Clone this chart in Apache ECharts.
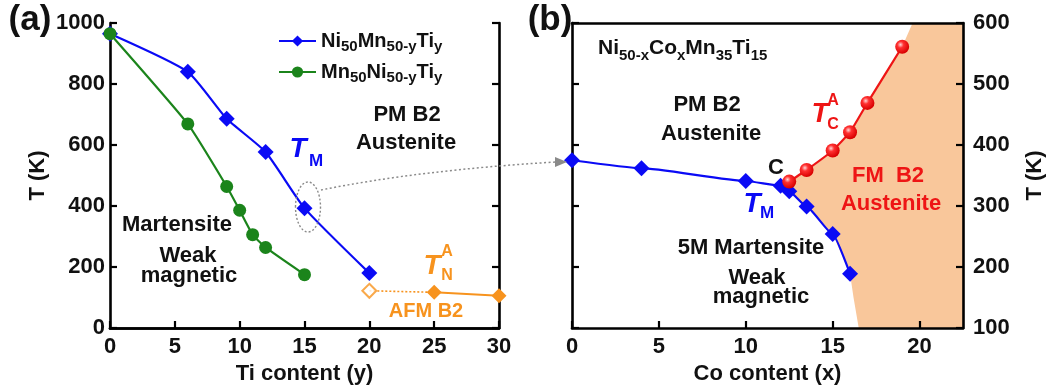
<!DOCTYPE html>
<html><head><meta charset="utf-8">
<script src="https://cdn.jsdelivr.net/npm/echarts@6/dist/echarts.min.js"></script>
<style>html,body{margin:0;padding:0;background:#fff}#c{width:1056px;height:390px}</style>
</head><body><div id="c"></div>
<script>
// ---- data ----
const tiX = [0, 6, 9, 12, 15, 20];
const niMnTiT = [965, 840, 686, 577, 393, 180];
const tiX2 = [0, 6, 9, 10, 11, 12, 15];
const mnNiTiT = [965, 669, 464, 386, 306, 264, 175];
const afmDottedX = [20, 25];
const afmDottedT = [122, 117];
const afmSolidX = [25, 30];
const afmSolidT = [117, 106];
const coX = [0, 4, 10, 12, 12.5, 13.5, 15, 16];
const coTM = [375, 362, 341, 333, 324, 299, 254, 189];
const coXC = [12.5, 13.5, 15, 16, 17, 19];
const coTC = [340, 359, 391, 421, 469, 561];
const fmEdgeX = [12.3, 13.5, 15, 16, 17, 19, 19.6, 22.5, 22.5, 16.5, 16.2, 16, 15, 13.5, 12.5];
const fmEdgeT = [336, 357, 389, 419, 467, 561, 600, 600, 100, 100, 150, 189, 254, 299, 324];
const leftXTicks = [0, 30, 5];
const leftYTicks = [0, 1000, 200];
const rightXTicks = [0, 22.5, 5];
const rightYTicks = [100, 600, 100];

const zip = (a, b) => a.map((v, i) => [v, b[i]]);
const FONT = '"Liberation Sans", Arial, sans-serif';
const BLUE = '#0a0af5', GREEN = '#1b841b', ORANGE = '#f7931e', RED = '#ee1515', FILL = '#f9c79b';

const chart = echarts.init(document.getElementById('c'), null, {renderer: 'canvas'});

const lblStyle = {fontFamily: FONT, fontWeight: 'bold', fontSize: 22, color: '#111', formatter: v => String(v)};
function frameX(grid, ext, showLabels, extra) {
  return Object.assign({
    type: 'value', gridIndex: grid, min: ext[0], max: ext[1], interval: ext[2],
    axisLine: {show: true, lineStyle: {color: '#000', width: 2.6}},
    axisTick: {show: showLabels, inside: true, length: 7, lineStyle: {color: '#000', width: 2.2}},
    axisLabel: {show: showLabels, margin: 8, showMaxLabel: ext[1] % ext[2] === 0, ...lblStyle},
    splitLine: {show: false}
  }, extra || {});
}
function frameY(grid, ext, pos, showLabels, ticks, extra) {
  return Object.assign({
    type: 'value', gridIndex: grid, position: pos, min: ext[0], max: ext[1], interval: ext[2],
    axisLine: {show: true, onZero: false, lineStyle: {color: '#000', width: 2.6}},
    axisTick: {show: ticks, inside: true, length: 7, lineStyle: {color: '#000', width: 2.2}},
    axisLabel: {show: showLabels, margin: pos === 'left' ? 5 : 10, ...lblStyle},
    splitLine: {show: false}
  }, extra || {});
}
const nameStyle = {fontFamily: FONT, fontWeight: 'bold', fontSize: 22, color: '#111'};

const redBall = {
  type: 'radial', x: 0.38, y: 0.35, r: 0.65,
  colorStops: [{offset: 0, color: '#ffd6d6'}, {offset: 0.35, color: '#ff3030'}, {offset: 1, color: '#d80000'}]
};

function txt(x, y, text, color, size, extra) {
  return {
    type: 'text', x: x, y: y, z: 100,
    style: Object.assign({text: text, fill: color || '#111', align: 'center', verticalAlign: 'middle',
      font: 'bold ' + (size || 22) + 'px ' + FONT}, extra || {})
  };
}
function italT(x, y, color) {
  return {type: 'text', x: x, y: y, z: 100,
    style: {text: 'T', fill: color, align: 'center', verticalAlign: 'middle', font: 'italic bold 28px ' + FONT}};
}

const option = {
  animation: false,
  backgroundColor: '#fff',
  grid: [
    {left: 110, top: 23, width: 389, height: 305},
    {left: 572, top: 23, width: 391, height: 305}
  ],
  xAxis: [
    frameX(0, leftXTicks, true, {name: 'Ti content (y)', nameLocation: 'middle', nameGap: 33, nameTextStyle: nameStyle}),
    frameX(0, leftXTicks, false, {position: 'top'}),
    frameX(1, rightXTicks, true, {name: 'Co content (x)', nameLocation: 'middle', nameGap: 33, nameTextStyle: nameStyle}),
    frameX(1, rightXTicks, false, {position: 'top'})
  ],
  yAxis: [
    frameY(0, leftYTicks, 'left', true, true, {name: 'T (K)', nameLocation: 'middle', nameGap: 61, nameRotate: 90, nameTextStyle: nameStyle}),
    frameY(0, leftYTicks, 'right', false, true),
    frameY(1, rightYTicks, 'right', true, true, {name: 'T (K)', nameLocation: 'middle', nameGap: 61, nameRotate: 90, nameTextStyle: nameStyle}),
    frameY(1, rightYTicks, 'left', false, true)
  ],
  legend: {
    data: ['Ni50Mn50-yTiy', 'Mn50Ni50-yTiy'],
    left: 273, top: 26, orient: 'vertical', itemGap: 8, itemWidth: 37, itemHeight: 14,
    formatter: n => n === 'Ni50Mn50-yTiy' ? '{m|Ni}{s|50}{m|Mn}{s|50-y}{m|Ti}{s|y}' : '{m|Mn}{s|50}{m|Ni}{s|50-y}{m|Ti}{s|y}',
    textStyle: {
      rich: {
        m: {fontFamily: FONT, fontWeight: 'bold', fontSize: 20, color: '#111', lineHeight: 26, verticalAlign: 'middle'},
        s: {fontFamily: FONT, fontWeight: 'bold', fontSize: 15, color: '#111', lineHeight: 14, verticalAlign: 'bottom'}
      }
    }
  },
  series: [
    {
      type: 'custom', xAxisIndex: 2, yAxisIndex: 2, z: 0, silent: true, data: [0],
      renderItem: (params, api) => ({
        type: 'polygon',
        shape: {points: zip(fmEdgeX, fmEdgeT).map(p => api.coord(p))},
        style: {fill: FILL, stroke: null}
      })
    },
    {
      name: 'Ni50Mn50-yTiy', type: 'line', xAxisIndex: 0, yAxisIndex: 0, data: zip(tiX, niMnTiT),
      smooth: 0.18, symbol: 'diamond', symbolSize: 16, color: BLUE,
      lineStyle: {width: 2.2, color: BLUE}, itemStyle: {color: BLUE}, z: 3
    },
    {
      name: 'Mn50Ni50-yTiy', type: 'line', xAxisIndex: 0, yAxisIndex: 0, data: zip(tiX2, mnNiTiT),
      smooth: 0.15, symbol: 'circle', symbolSize: 13, color: GREEN,
      lineStyle: {width: 2.2, color: GREEN}, itemStyle: {color: GREEN}, z: 4
    },
    {
      type: 'line', xAxisIndex: 0, yAxisIndex: 0, data: zip(afmDottedX, afmDottedT),
      symbol: 'none', lineStyle: {width: 1.6, color: ORANGE, type: [2, 2]}, z: 3
    },
    {
      type: 'line', xAxisIndex: 0, yAxisIndex: 0, data: zip(afmSolidX, afmSolidT),
      symbol: 'diamond', symbolSize: 15, lineStyle: {width: 2, color: ORANGE}, itemStyle: {color: ORANGE}, z: 3
    },
    {
      type: 'scatter', xAxisIndex: 0, yAxisIndex: 0, data: zip(afmDottedX, afmDottedT).slice(0, 1),
      symbol: 'diamond', symbolSize: 14, itemStyle: {color: '#fff', borderColor: ORANGE, borderWidth: 2}, z: 5
    },
    {
      type: 'line', xAxisIndex: 2, yAxisIndex: 2, data: zip(coX, coTM),
      smooth: 0.15, smoothMonotone: 'x', symbol: 'diamond', symbolSize: 16, lineStyle: {width: 2.2, color: BLUE}, itemStyle: {color: BLUE}, z: 3
    },
    {
      type: 'line', xAxisIndex: 2, yAxisIndex: 2, data: zip(coXC, coTC),
      smooth: 0.1, symbol: 'circle', symbolSize: 14, lineStyle: {width: 2.2, color: RED}, itemStyle: {color: redBall}, z: 4
    }
  ],
  graphic: [
    txt(30, 20, '(a)', '#111', 35),
    txt(550, 20, '(b)', '#111', 35),
    // left panel labels
    txt(407, 115, 'PM B2'),
    txt(406, 143, 'Austenite'),
    italT(298, 149, BLUE),
    txt(316, 161, 'M', BLUE, 17),
    txt(177, 225, 'Martensite'),
    txt(188, 256, 'Weak'),
    txt(189, 276, 'magnetic'),
    italT(432, 266, ORANGE),
    txt(447, 252, 'A', ORANGE, 16),
    txt(447, 276, 'N', ORANGE, 16),
    txt(426, 311, 'AFM B2', ORANGE, 20),
    // right panel labels
    {
      type: 'text', x: 598, y: 48, z: 100,
      style: {
        text: '{m|Ni}{s|50-x}{m|Co}{s|x}{m|Mn}{s|35}{m|Ti}{s|15}', align: 'left', verticalAlign: 'middle',
        rich: {
          m: {font: 'bold 21px ' + FONT, fill: '#111', lineHeight: 30, verticalAlign: 'middle'},
          s: {font: 'bold 15px ' + FONT, fill: '#111', lineHeight: 15, verticalAlign: 'bottom'}
        }
      }
    },
    txt(707, 105, 'PM B2'),
    txt(711, 134, 'Austenite'),
    italT(820, 114, RED),
    txt(833, 101, 'A', RED, 16),
    txt(833, 125, 'C', RED, 16),
    txt(776, 168, 'C', '#111', 22),
    italT(752, 204, BLUE),
    txt(767, 213, 'M', BLUE, 17),
    txt(888, 176, 'FM  B2', RED),
    txt(891, 204, 'Austenite', RED),
    txt(751, 248, '5M Martensite'),
    txt(757, 278, 'Weak'),
    txt(761, 297, 'magnetic'),
    // annotation: ellipse + dotted arrow
    {type: 'ellipse', z: 100, shape: {cx: 308, cy: 207, rx: 12.5, ry: 25},
      style: {fill: null, stroke: '#8a8a8a', lineWidth: 1.4, lineDash: [2, 2]}},
    {type: 'bezierCurve', z: 100, shape: {x1: 321, y1: 190, x2: 556, y2: 162, cpx1: 420, cpy1: 170},
      style: {fill: null, stroke: '#8a8a8a', lineWidth: 1.5, lineDash: [2, 2.5]}},
    {type: 'polygon', z: 100, shape: {points: [[555, 157], [567, 162], [555, 167]]},
      style: {fill: '#8a8a8a'}}
  ]
};
chart.setOption(option);
</script>
</body></html>
